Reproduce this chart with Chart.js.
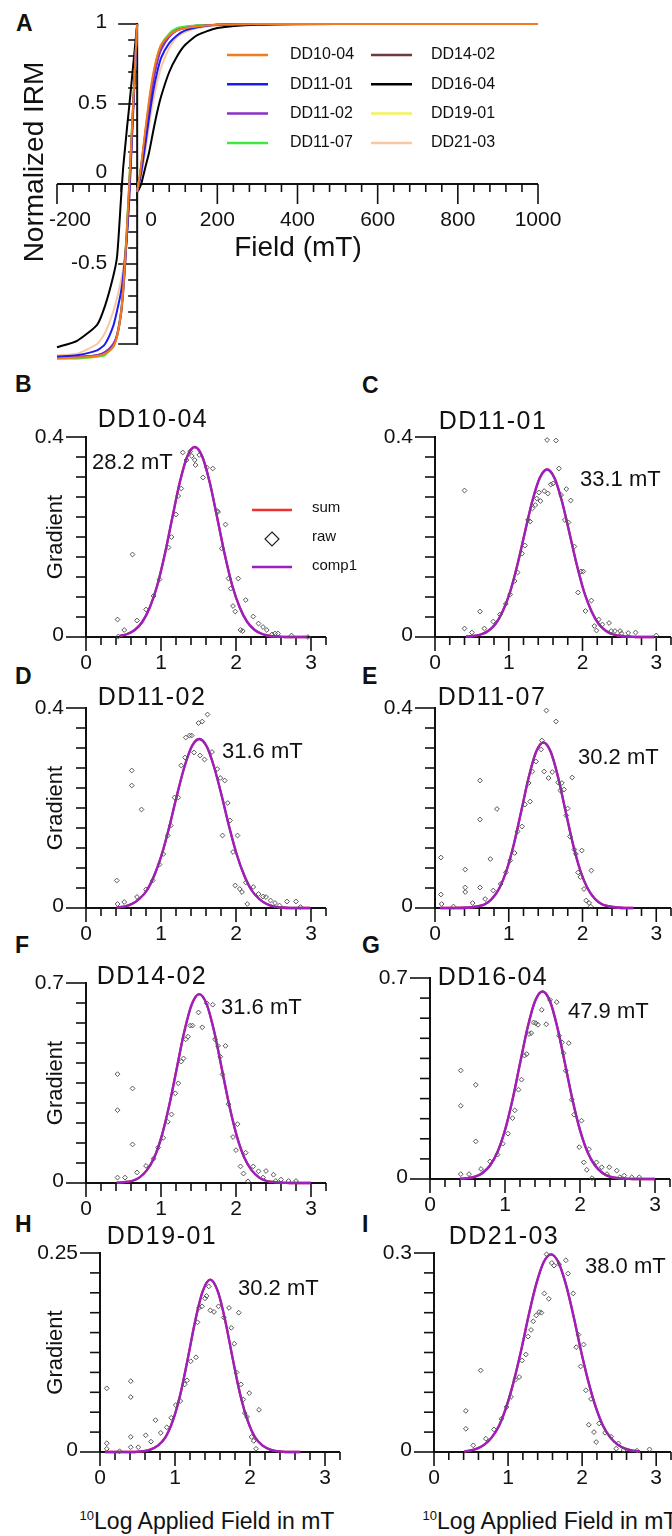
<!DOCTYPE html>
<html><head><meta charset="utf-8">
<script src="https://cdn.jsdelivr.net/npm/chart.js@4.4.1/dist/chart.umd.min.js"></script>
<style>
html,body{margin:0;padding:0;background:#fff;}
body{width:672px;height:1536px;overflow:hidden;position:relative;font-family:'Liberation Sans',Arial,sans-serif;color:#111;}
canvas{position:absolute;}
.lt{position:absolute;font-weight:bold;font-size:23px;line-height:1;}
.xt{position:absolute;font-size:23px;line-height:1;white-space:nowrap;width:300px;text-align:center;}
.xt sup{font-size:13px;vertical-align:9px;line-height:0;}
</style></head><body>
<div class="lt" style="left:16px;top:12px">A</div>
<div class="lt" style="left:15px;top:373px">B</div>
<div class="lt" style="left:362px;top:374px">C</div>
<div class="lt" style="left:15px;top:665px">D</div>
<div class="lt" style="left:362px;top:665px">E</div>
<div class="lt" style="left:15px;top:934px">F</div>
<div class="lt" style="left:362px;top:934px">G</div>
<div class="lt" style="left:15px;top:1213px">H</div>
<div class="lt" style="left:362px;top:1213px">I</div>
<div class="xt" style="left:57px;top:1510px"><sup>10</sup>Log Applied Field in mT</div>
<div class="xt" style="left:400px;top:1510px"><sup>10</sup>Log Applied Field in mT</div>
<script>
// ---------------- Panel A data ----------------
const sampleNames = ['DD10-04','DD11-01','DD11-02','DD11-07','DD14-02','DD16-04','DD19-01','DD21-03'];
const acqField = [0, 5, 10, 20, 30, 40, 50, 60, 80, 100, 120, 150, 200, 300, 500, 1000];
const acqDD1004 = [-0.05, 0.03, 0.12, 0.33, 0.53, 0.69, 0.80, 0.87, 0.93, 0.96, 0.975, 0.985, 0.995, 1.0, 1.0, 1.0];
const acqDD1101 = [-0.05, 0.01, 0.07, 0.24, 0.42, 0.58, 0.70, 0.79, 0.88, 0.93, 0.96, 0.98, 0.995, 1.0, 1.0, 1.0];
const acqDD1102 = [-0.05, 0.02, 0.10, 0.29, 0.48, 0.64, 0.76, 0.84, 0.92, 0.96, 0.975, 0.985, 0.995, 1.0, 1.0, 1.0];
const acqDD1107 = [-0.05, 0.02, 0.10, 0.30, 0.50, 0.67, 0.79, 0.87, 0.94, 0.975, 0.985, 0.99, 0.995, 1.0, 1.0, 1.0];
const acqDD1402 = [-0.05, 0.02, 0.11, 0.31, 0.50, 0.66, 0.78, 0.86, 0.93, 0.965, 0.98, 0.99, 0.995, 1.0, 1.0, 1.0];
const acqDD1604 = [-0.05, -0.03, 0.0, 0.10, 0.20, 0.33, 0.45, 0.55, 0.70, 0.80, 0.87, 0.93, 0.975, 0.995, 1.0, 1.0];
const acqDD1901 = [-0.05, 0.03, 0.12, 0.32, 0.52, 0.68, 0.80, 0.87, 0.94, 0.97, 0.98, 0.99, 0.995, 1.0, 1.0, 1.0];
const acqDD2103 = [-0.05, 0.0, 0.05, 0.20, 0.37, 0.52, 0.64, 0.73, 0.85, 0.92, 0.95, 0.975, 0.99, 1.0, 1.0, 1.0];
const bfField = [0, -10, -20, -25, -30, -35, -40, -50, -60, -80, -100, -150, -200];
const bfDD1004 = [1.0, 0.5, -0.02, -0.25, -0.47, -0.66, -0.8, -0.95, -1.02, -1.06, -1.075, -1.085, -1.09];
const bfDD1101 = [1.0, 0.45, -0.1, -0.3, -0.45, -0.58, -0.67, -0.79, -0.89, -1.0, -1.04, -1.07, -1.08];
const bfDD1102 = [1.0, 0.48, -0.04, -0.28, -0.5, -0.67, -0.8, -0.94, -1.0, -1.05, -1.07, -1.08, -1.08];
const bfDD1107 = [1.0, 0.5, 0.0, -0.24, -0.46, -0.65, -0.79, -0.94, -1.01, -1.07, -1.08, -1.09, -1.09];
const bfDD1402 = [1.0, 0.48, -0.05, -0.29, -0.5, -0.68, -0.81, -0.95, -1.01, -1.05, -1.07, -1.08, -1.08];
const bfDD1604 = [1.0, 0.74, 0.48, 0.36, 0.23, 0.1, -0.08, -0.45, -0.58, -0.76, -0.88, -0.98, -1.02];
const bfDD1901 = [1.0, 0.5, -0.01, -0.25, -0.47, -0.66, -0.8, -0.95, -1.02, -1.06, -1.08, -1.09, -1.09];
const bfDD2103 = [1.0, 0.45, -0.12, -0.3, -0.43, -0.53, -0.6, -0.71, -0.8, -0.93, -1.0, -1.06, -1.07];
const xTicksA = [-200, 0, 200, 400, 600, 800, 1000];
const xTickLabelsA = ['-200', '0', '200', '400', '600', '800', '1000'];
const yTicksA = [1, 0.5, 0, -0.5];
const yTickLabelsA = ['1', '0.5', '0', '-0.5'];

// ---------------- Gradient panels data ----------------
const panelNames = ['DD10-04','DD11-01','DD11-02','DD11-07','DD14-02','DD16-04','DD19-01','DD21-03'];
const panelFields = ['28.2 mT','33.1 mT','31.6 mT','30.2 mT','31.6 mT','47.9 mT','30.2 mT','38.0 mT'];
const panelYMax = [0.4, 0.4, 0.4, 0.4, 0.7, 0.7, 0.25, 0.3];
const panelYMaxLabels = ['0.4','0.4','0.4','0.4','0.7','0.7','0.25','0.3'];
const xTicksLog = [0, 1, 2, 3];
const xTickLabelsLog = ['0', '1', '2', '3'];

const rawDD1004 = [[0.42,0.035],[0.51,0.014],[0.43,0.001],[0.62,0.165],[0.68,0.033],[0.80,0.055],[0.90,0.082],[0.98,0.115],[1.10,0.179],[1.14,0.200],[1.20,0.245],[1.23,0.282],[1.27,0.297],[1.29,0.369],[1.34,0.354],[1.39,0.371],[1.41,0.362],[1.45,0.354],[1.46,0.344],[1.51,0.364],[1.56,0.319],[1.61,0.339],[1.69,0.337],[1.75,0.252],[1.76,0.250],[1.86,0.225],[1.81,0.177],[1.90,0.117],[2.03,0.117],[1.93,0.097],[1.96,0.062],[1.99,0.051],[2.13,0.074],[2.06,0.014],[2.09,0.012],[2.23,0.041],[2.30,0.027],[2.36,0.020],[2.41,0.014],[2.48,0.005],[2.52,0.007],[2.56,0.007],[2.74,0.003],[2.96,0.000]];
const rawDD1101 = [[0.40,0.293],[0.40,0.017],[0.50,0.009],[0.61,0.051],[0.67,0.017],[0.79,0.031],[0.88,0.045],[0.96,0.066],[1.02,0.085],[1.08,0.112],[1.12,0.129],[1.18,0.167],[1.22,0.183],[1.26,0.234],[1.29,0.231],[1.32,0.257],[1.36,0.264],[1.38,0.277],[1.43,0.272],[1.41,0.289],[1.48,0.292],[1.53,0.287],[1.57,0.305],[1.60,0.307],[1.52,0.394],[1.64,0.393],[1.68,0.337],[1.71,0.284],[1.78,0.296],[1.84,0.273],[1.76,0.234],[1.81,0.229],[1.89,0.181],[1.98,0.131],[2.01,0.131],[1.94,0.089],[2.04,0.052],[2.12,0.073],[2.22,0.035],[2.16,0.022],[2.27,0.025],[2.36,0.028],[2.19,0.013],[2.39,0.012],[2.44,0.012],[2.51,0.012],[2.53,0.007],[2.62,0.008],[2.72,0.009],[3.00,0.003]];
const rawDD1102 = [[0.41,0.055],[0.42,0.008],[0.51,0.012],[0.61,0.275],[0.61,0.245],[0.74,0.197],[0.68,0.022],[0.80,0.037],[0.89,0.055],[0.98,0.087],[1.03,0.108],[1.09,0.145],[1.13,0.165],[1.18,0.221],[1.23,0.221],[1.27,0.285],[1.32,0.301],[1.33,0.341],[1.38,0.345],[1.41,0.345],[1.44,0.311],[1.50,0.370],[1.55,0.373],[1.62,0.387],[1.52,0.305],[1.58,0.297],[1.68,0.312],[1.75,0.278],[1.79,0.260],[1.85,0.255],[1.89,0.210],[1.92,0.175],[1.82,0.145],[2.02,0.145],[1.96,0.112],[1.99,0.045],[2.05,0.038],[2.08,0.032],[2.13,0.051],[2.15,0.008],[2.23,0.042],[2.30,0.028],[2.36,0.023],[2.40,0.022],[2.46,0.015],[2.52,0.010],[2.58,0.005],[2.68,0.013],[2.80,0.013],[2.86,0.002]];
const rawDD1107 = [[0.08,0.101],[0.08,0.027],[0.09,0.008],[0.25,0.003],[0.41,0.077],[0.41,0.041],[0.41,0.032],[0.51,0.010],[0.61,0.255],[0.61,0.177],[0.61,0.041],[0.68,0.018],[0.75,0.098],[0.79,0.035],[0.84,0.198],[0.89,0.048],[0.96,0.071],[1.02,0.095],[1.08,0.110],[1.12,0.153],[1.18,0.163],[1.22,0.207],[1.29,0.213],[1.27,0.250],[1.32,0.273],[1.37,0.293],[1.44,0.317],[1.45,0.335],[1.48,0.273],[1.54,0.260],[1.59,0.272],[1.51,0.395],[1.64,0.373],[1.67,0.251],[1.70,0.235],[1.75,0.237],[1.72,0.250],[1.86,0.261],[1.80,0.199],[1.78,0.185],[1.83,0.143],[1.89,0.117],[1.91,0.108],[1.99,0.115],[1.94,0.071],[1.97,0.062],[2.12,0.075],[2.02,0.038],[2.05,0.015],[2.09,0.010],[2.11,0.003]];
const rawDD1402 = [[0.42,0.381],[0.42,0.255],[0.42,0.019],[0.52,0.019],[0.62,0.331],[0.62,0.135],[0.68,0.037],[0.80,0.060],[0.90,0.085],[0.96,0.124],[1.03,0.158],[1.09,0.214],[1.14,0.240],[1.19,0.314],[1.23,0.349],[1.27,0.425],[1.30,0.436],[1.33,0.503],[1.36,0.512],[1.39,0.551],[1.42,0.551],[1.50,0.597],[1.55,0.545],[1.61,0.629],[1.69,0.624],[1.72,0.503],[1.76,0.480],[1.86,0.480],[1.79,0.442],[1.82,0.380],[1.90,0.276],[1.96,0.161],[2.02,0.206],[2.00,0.115],[2.13,0.106],[2.06,0.058],[2.10,0.033],[2.16,0.006],[2.23,0.058],[2.30,0.041],[2.40,0.042],[2.36,0.019],[2.50,0.029],[2.53,0.007],[2.60,0.012],[2.70,0.007],[2.80,0.007]];
const rawDD1604 = [[0.41,0.378],[0.41,0.255],[0.41,0.017],[0.52,0.017],[0.61,0.328],[0.61,0.131],[0.68,0.035],[0.80,0.061],[0.90,0.085],[0.97,0.123],[1.04,0.158],[1.10,0.212],[1.13,0.239],[1.18,0.311],[1.22,0.346],[1.26,0.430],[1.29,0.435],[1.32,0.505],[1.35,0.508],[1.38,0.545],[1.41,0.543],[1.44,0.537],[1.49,0.589],[1.55,0.539],[1.60,0.624],[1.69,0.616],[1.72,0.499],[1.76,0.476],[1.85,0.473],[1.78,0.438],[1.81,0.377],[1.89,0.276],[1.92,0.224],[2.02,0.203],[1.99,0.111],[2.12,0.104],[2.05,0.058],[2.09,0.032],[2.16,0.003],[2.22,0.058],[2.29,0.041],[2.39,0.041],[2.36,0.017],[2.49,0.029],[2.53,0.006],[2.59,0.012],[2.69,0.006],[2.79,0.006]];
const rawDD1901 = [[0.09,0.080],[0.09,0.011],[0.09,0.004],[0.26,0.001],[0.41,0.089],[0.41,0.069],[0.41,0.019],[0.41,0.006],[0.51,0.006],[0.61,0.021],[0.68,0.013],[0.74,0.040],[0.81,0.024],[0.89,0.031],[0.95,0.043],[1.01,0.059],[1.07,0.064],[1.13,0.085],[1.16,0.090],[1.21,0.114],[1.28,0.119],[1.30,0.163],[1.32,0.181],[1.36,0.183],[1.40,0.193],[1.42,0.196],[1.45,0.208],[1.47,0.178],[1.52,0.176],[1.58,0.183],[1.65,0.169],[1.72,0.181],[1.85,0.175],[1.75,0.156],[1.79,0.136],[1.82,0.100],[1.88,0.085],[1.91,0.066],[1.99,0.074],[1.93,0.049],[1.96,0.044],[2.12,0.053],[2.02,0.019],[2.05,0.014],[2.08,0.004]];
const rawDD2103 = [[0.43,0.062],[0.43,0.035],[0.53,0.010],[0.63,0.123],[0.70,0.020],[0.81,0.034],[0.91,0.050],[0.98,0.068],[1.04,0.083],[1.10,0.109],[1.15,0.113],[1.19,0.138],[1.24,0.147],[1.27,0.174],[1.31,0.184],[1.34,0.197],[1.38,0.206],[1.42,0.211],[1.45,0.210],[1.49,0.239],[1.55,0.231],[1.52,0.298],[1.59,0.285],[1.62,0.281],[1.69,0.283],[1.78,0.289],[1.81,0.269],[1.88,0.239],[1.95,0.177],[2.02,0.162],[1.92,0.158],[1.98,0.129],[2.05,0.093],[2.12,0.080],[2.09,0.041],[2.16,0.030],[2.19,0.015],[2.23,0.043],[2.31,0.029],[2.39,0.023],[2.49,0.013],[2.46,0.005],[2.56,0.003],[2.74,0.002],[2.91,0.004]];

const fitDD1004 = [[0.45,0.002],[0.55,0.006],[0.65,0.014],[0.75,0.030],[0.85,0.059],[0.95,0.103],[1.05,0.165],[1.15,0.238],[1.25,0.309],[1.35,0.361],[1.45,0.380],[1.55,0.361],[1.65,0.309],[1.75,0.238],[1.85,0.165],[1.95,0.103],[2.05,0.059],[2.15,0.030],[2.25,0.014],[2.35,0.006],[2.45,0.002],[2.55,0.001],[2.65,0],[2.75,0],[2.85,0],[2.95,0]];
const fitDD1101 = [[0.42,0.001],[0.52,0.002],[0.62,0.005],[0.72,0.012],[0.82,0.026],[0.92,0.052],[1.02,0.091],[1.12,0.146],[1.22,0.210],[1.32,0.272],[1.42,0.318],[1.52,0.335],[1.62,0.318],[1.72,0.272],[1.82,0.210],[1.92,0.146],[2.02,0.091],[2.12,0.052],[2.22,0.026],[2.32,0.012],[2.42,0.005],[2.52,0.002],[2.62,0.001],[2.72,0],[2.82,0],[2.97,0]];
const fitDD1102 = [[0.41,0.001],[0.51,0.003],[0.61,0.008],[0.71,0.018],[0.81,0.035],[0.91,0.065],[1.01,0.107],[1.11,0.162],[1.21,0.224],[1.31,0.281],[1.41,0.323],[1.51,0.338],[1.61,0.323],[1.71,0.281],[1.81,0.224],[1.91,0.162],[2.01,0.107],[2.11,0.065],[2.21,0.035],[2.31,0.018],[2.41,0.008],[2.51,0.003],[2.61,0.001],[2.71,0],[2.81,0],[2.99,0]];
const fitDD1107 = [[0.07,0],[0.27,0],[0.47,0.001],[0.57,0.003],[0.67,0.007],[0.77,0.018],[0.87,0.039],[0.97,0.075],[1.07,0.128],[1.17,0.194],[1.27,0.261],[1.37,0.312],[1.47,0.331],[1.57,0.312],[1.67,0.261],[1.77,0.194],[1.87,0.128],[1.97,0.075],[2.07,0.039],[2.17,0.018],[2.27,0.007],[2.37,0.003],[2.47,0.001],[2.57,0],[2.69,0]];
const fitDD1402 = [[0.41,0.001],[0.51,0.003],[0.61,0.007],[0.71,0.019],[0.81,0.044],[0.91,0.089],[1.01,0.165],[1.11,0.272],[1.21,0.401],[1.31,0.529],[1.41,0.625],[1.51,0.661],[1.61,0.625],[1.71,0.529],[1.81,0.401],[1.91,0.272],[2.01,0.165],[2.11,0.089],[2.21,0.044],[2.31,0.019],[2.41,0.007],[2.51,0.003],[2.61,0.001],[2.71,0],[2.81,0],[3.0,0]];
const fitDD1604 = [[0.4,0.001],[0.5,0.003],[0.6,0.008],[0.7,0.021],[0.8,0.047],[0.9,0.094],[1.0,0.170],[1.1,0.276],[1.2,0.402],[1.3,0.526],[1.4,0.619],[1.5,0.653],[1.6,0.619],[1.7,0.526],[1.8,0.402],[1.9,0.276],[2.0,0.170],[2.1,0.094],[2.2,0.047],[2.3,0.021],[2.4,0.008],[2.5,0.003],[2.6,0.001],[2.7,0],[2.8,0],[3.0,0]];
const fitDD1901 = [[0.07,0],[0.27,0],[0.47,0],[0.57,0.001],[0.67,0.003],[0.77,0.008],[0.87,0.018],[0.97,0.039],[1.07,0.072],[1.17,0.117],[1.27,0.165],[1.37,0.202],[1.47,0.2165],[1.57,0.202],[1.67,0.165],[1.77,0.117],[1.87,0.072],[1.97,0.039],[2.07,0.018],[2.17,0.008],[2.27,0.003],[2.37,0.001],[2.47,0],[2.57,0],[2.67,0]];
const fitDD2103 = [[0.41,0.001],[0.48,0.002],[0.58,0.005],[0.68,0.011],[0.78,0.022],[0.88,0.040],[0.98,0.069],[1.08,0.108],[1.18,0.155],[1.28,0.207],[1.38,0.253],[1.48,0.286],[1.58,0.298],[1.68,0.286],[1.78,0.253],[1.88,0.207],[1.98,0.155],[2.08,0.108],[2.18,0.069],[2.28,0.040],[2.38,0.022],[2.48,0.011],[2.58,0.005],[2.68,0.002],[2.78,0.001]];

// ---------------- helpers / plugins ----------------
const FONT = "'Liberation Sans', Arial, Helvetica, sans-serif";
function rng(from, to, step){ const n=Math.round((to-from)/step); const a=[]; for(let i=0;i<=n;i++) a.push(from+i*step); return a; }
const near=(a,v)=>a.some(m=>Math.abs(m-v)<1e-6);

const axesPlugin = {
  id:'axes',
  beforeDatasetsDraw(chart, args, o){
    if(!o || !o.on) return;
    const ctx=chart.ctx, xs=chart.scales.x, ys=chart.scales.y;
    const X=v=>xs.getPixelForValue(v), Y=v=>ys.getPixelForValue(v);
    const y0=Y(o.xAxisAt), x0=X(o.yAxisAt);
    ctx.save(); ctx.strokeStyle='#111'; ctx.fillStyle='#111';
    const ln=(a,b,c,d,w)=>{ctx.lineWidth=w; ctx.beginPath(); ctx.moveTo(a,b); ctx.lineTo(c,d); ctx.stroke();};
    ln(X(o.xFrom), y0, X(o.xTo), y0, o.axisW);
    for(const v of rng(o.xFrom,o.xTo,o.xStep)){ const p=X(v); ln(p, y0, p, y0+(near(o.xMajorTicks,v)?o.xMajLen:o.xMinLen), o.tickW); }
    ln(x0, Y(o.yFrom)+o.axisW/2, x0, Y(o.yTo)-o.axisW/2, o.axisW);
    for(const v of rng(o.yFrom,o.yTo,o.yStep)){ const p=Y(v); ln(x0-(near(o.yMajorTicks,v)?o.yMajLen:o.yMinLen), p, x0, p, o.tickW); }
    ctx.font=`${o.fs}px ${FONT}`; ctx.textBaseline='middle'; ctx.textAlign='center';
    o.xVals.forEach((v,i)=>ctx.fillText(o.xLabels[i], X(v)+(o.xDx?o.xDx[i]:0), y0+o.xLabOff));
    ctx.textAlign='right';
    o.yVals.forEach((v,i)=>ctx.fillText(o.yLabels[i], x0-o.yLabOff, Y(v)+(o.yDy?o.yDy[i]:0)));
    ctx.restore();
  }
};
const textPlugin = {
  id:'texts',
  afterDraw(chart, args, o){
    if(!o || !o.items) return;
    const ctx=chart.ctx; ctx.save();
    for(const l of (o.lines||[])){ ctx.strokeStyle=l.color; ctx.lineWidth=l.w; ctx.beginPath(); ctx.moveTo(l.x1-o.L,l.y-o.T); ctx.lineTo(l.x2-o.L,l.y-o.T); ctx.stroke(); }
    for(const d of (o.diamonds||[])){ const x=d.x-o.L, y=d.y-o.T; ctx.strokeStyle='#222'; ctx.lineWidth=1.2; ctx.beginPath(); ctx.moveTo(x,y-d.r); ctx.lineTo(x+d.r,y); ctx.lineTo(x,y+d.r); ctx.lineTo(x-d.r,y); ctx.closePath(); ctx.stroke(); }
    for(const t of o.items){
      ctx.font=`${t.size}px ${FONT}`; ctx.fillStyle='#111';
      ctx.textAlign=t.align||'center'; ctx.textBaseline='middle';
      ctx.letterSpacing = t.ls || '0px';
      const x=t.x-o.L, y=t.y-o.T;
      if(t.rot){ ctx.save(); ctx.translate(x,y); ctx.rotate(-Math.PI/2); ctx.fillText(t.text,0,0); ctx.restore(); }
      else ctx.fillText(t.text,x,y);
    }
    ctx.restore();
  }
};

function mk(L,T,W,H,pad,xr,yr,datasets,axesOpt,textOpt){
  const c=document.createElement('canvas'); c.width=W; c.height=H;
  c.style.left=L+'px'; c.style.top=T+'px'; c.style.width=W+'px'; c.style.height=H+'px';
  document.body.appendChild(c);
  return new Chart(c,{type:'line',data:{datasets},
    options:{responsive:false,animation:false,devicePixelRatio:1,layout:{padding:pad},
      scales:{x:{type:'linear',min:xr[0],max:xr[1],display:false},y:{type:'linear',min:yr[0],max:yr[1],display:false}},
      plugins:{legend:{display:false},tooltip:{enabled:false},title:{display:false},axes:axesOpt,texts:textOpt},
      elements:{point:{radius:0}}},
    plugins:[axesPlugin,textPlugin]});
}

// ---------------- Panel A ----------------
const acqSets=[acqDD1004,acqDD1101,acqDD1102,acqDD1107,acqDD1402,acqDD1604,acqDD1901,acqDD2103];
const bfSets=[bfDD1004,bfDD1101,bfDD1102,bfDD1107,bfDD1402,bfDD1604,bfDD1901,bfDD2103];
const colorsA=['#f47a20','#1c1cf0','#8b2fc9','#3ee83e','#6e3b3b','#000000','#f2f25a','#f9c8a0'];
function irmSeries(acq,bf){ const p=acqField.map((f,i)=>({x:f,y:acq[i]})); p.push({x:0,y:null}); bfField.forEach((f,i)=>p.push({x:f,y:bf[i]})); return p; }
const dsA=sampleNames.map((n,i)=>({label:n,data:irmSeries(acqSets[i],bfSets[i]),borderColor:colorsA[i],borderWidth:2,tension:0.2,spanGaps:false,clip:false,pointRadius:0}));
const legLines=[], legItems=[];
sampleNames.forEach((n,i)=>{ const col=Math.floor(i/4), row=i%4; const y=55+row*29.3;
  const lx=col?371:227; legLines.push({x1:lx,x2:lx+41,y:y,color:colorsA[i],w:2.5});
  legItems.push({text:n,x:col?431:290,y:y,size:16,align:'left'}); });
mk(0,0,672,380,{left:57,right:134,top:24,bottom:20},[-200,1000],[-1.1,1.0],dsA,
  {on:true,axisW:2,tickW:1.6,fs:21,
   xAxisAt:0,xFrom:-200,xTo:1000,xStep:40,xMajorTicks:xTicksA,xMajLen:20,xMinLen:8,xVals:xTicksA,xLabels:xTickLabelsA,xDx:[13,14,0,0,0,0,0],xLabOff:36,
   yAxisAt:0,yFrom:-1,yTo:1,yStep:0.1,yMajorTicks:[1,0.5,0,-0.5,-1],yMajLen:19,yMinLen:9,yVals:yTicksA,yLabels:yTickLabelsA,yDy:[-2,-1,-12,-1],yLabOff:30},
  {L:0,T:0,lines:legLines,items:legItems.concat([
    {text:'Normalized IRM',x:35,y:162,size:28,rot:true},
    {text:'Field (mT)',x:298,y:248,size:28}])});

// ---------------- Gradient panels ----------------
const rawSets=[rawDD1004,rawDD1101,rawDD1102,rawDD1107,rawDD1402,rawDD1604,rawDD1901,rawDD2103];
const fitSets=[fitDD1004,fitDD1101,fitDD1102,fitDD1107,fitDD1402,fitDD1604,fitDD1901,fitDD2103];
const layout=[
  {L:0,  T:370, axisX:86,  yTop:437, yBot:637, title:[153,420], note:[92,463]},
  {L:336,T:370, axisX:435, yTop:437, yBot:637, title:[493,422], note:[580,480]},
  {L:0,  T:640, axisX:86,  yTop:708, yBot:908, title:[152,698], note:[222,752]},
  {L:336,T:640, axisX:435, yTop:708, yBot:908, title:[492,698], note:[578,758]},
  {L:0,  T:915, axisX:86,  yTop:983, yBot:1183,title:[152,977], note:[221,1008]},
  {L:336,T:915, axisX:430, yTop:978, yBot:1179,title:[493,978], note:[568,1012]},
  {L:0,  T:1190,axisX:100, yTop:1253,yBot:1452,title:[162,1237],note:[238,1289]},
  {L:336,T:1190,axisX:434, yTop:1253,yBot:1452,title:[504,1237],note:[585,1267]}
];
const PURPLE='#9a1fc4', RED='#ee3030';
panelNames.forEach((name,i)=>{
  const g=layout[i], W=(g.L===0?380:340), H=310, ymax=panelYMax[i];
  const pad={left:g.axisX-g.L, right:W-(g.axisX-g.L)-240, top:g.yTop-g.T, bottom:H-(g.yBot-g.T)};
  const fit=fitSets[i].map(p=>({x:p[0],y:p[1]}));
  const raw=rawSets[i].map(p=>({x:p[0],y:p[1]}));
  const ds=[
    {label:'raw',data:raw,showLine:false,pointStyle:'rectRot',pointRadius:2.4,pointBorderWidth:1,pointBorderColor:'#555',pointBackgroundColor:'rgba(255,255,255,0)',clip:false,order:0},
    {label:'comp1',data:fit,borderColor:PURPLE,borderWidth:2.3,cubicInterpolationMode:'monotone',pointRadius:0,clip:false,order:1},
    {label:'sum',data:fit,borderColor:RED,borderWidth:2.3,cubicInterpolationMode:'monotone',pointRadius:0,clip:false,order:2}
  ];
  const items=[
    {text:name,x:g.title[0],y:g.title[1],size:25,ls:'1.5px'},
    {text:panelFields[i],x:g.note[0],y:g.note[1],size:22,align:'left'}
  ];
  if(g.L===0) items.push({text:'Gradient',x:56,y:(g.yTop+g.yBot)/2,size:22,rot:true});
  const lines=[], diamonds=[];
  if(i===0){
    lines.push({x1:252,x2:292,y:510,color:RED,w:2.3});
    lines.push({x1:252,x2:292,y:567,color:PURPLE,w:2.3});
    diamonds.push({x:272,y:539,r:7});
    items.push({text:'sum',x:312,y:508,size:15,align:'left'});
    items.push({text:'raw',x:312,y:537,size:15,align:'left'});
    items.push({text:'comp1',x:312,y:566,size:15,align:'left'});
  }
  mk(g.L,g.T,W,H,pad,[0,3.2],[0,ymax],ds,
    {on:true,axisW:2,tickW:1.6,fs:21,
     xAxisAt:0,xFrom:0,xTo:3.2,xStep:0.2,xMajorTicks:xTicksLog,xMajLen:14,xMinLen:8,xVals:xTicksLog,xLabels:xTickLabelsLog,xLabOff:26,
     yAxisAt:0,yFrom:0,yTo:ymax,yStep:ymax/10,yMajorTicks:[0,ymax],yMajLen:20,yMinLen:10,yVals:[0,ymax],yLabels:['0',panelYMaxLabels[i]],yDy:[-2,0],yLabOff:22},
    {L:g.L,T:g.T,items,lines,diamonds});
});
</script>
</body></html>
